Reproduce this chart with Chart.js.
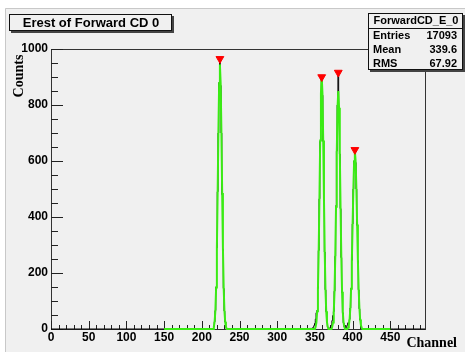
<!DOCTYPE html>
<html>
<head>
<meta charset="utf-8">
<script src="https://cdn.jsdelivr.net/npm/chart.js@4.4.1/dist/chart.umd.min.js"></script>
<style>
  html, body { margin: 0; padding: 0; background: #fff; }
  canvas { display: block; }
</style>
</head>
<body>
<canvas id="myChart" width="465" height="352"></canvas>
<script>
// histogram ForwardCD_E_0 (channel, counts) - only the non empty stretches, zeros around them
const histChannels = [0, 215, 216, 217, 218, 219, 220, 221, 222, 223, 224, 225, 226, 227, 228, 229, 230, 231, 232, 233,
  340, 345, 346, 347, 348, 349, 350, 351, 352, 353, 354, 355, 356, 357, 358, 359, 360, 361, 362, 363, 364, 365, 366, 367, 368, 369,
  370, 371, 372, 373, 374, 375, 376, 377, 378, 379, 380, 381, 382, 383, 384, 385, 386, 387, 388, 389,
  390, 391, 392, 393, 394, 395, 396, 397, 398, 399, 400, 401, 402, 403, 404, 405, 406, 407, 408, 409, 410, 411, 412, 413, 496];
const histCounts = [0, 0, 9, 26, 66, 150, 290, 490, 700, 880, 965, 870, 700, 480, 285, 145, 64, 25, 8, 0,
  0, 2, 0, 4, 6, 12, 20, 35, 58, 66, 145, 280, 465, 670, 840, 900, 835, 670, 460, 275, 140, 62, 24, 8, 2, 0,
  4, 8, 14, 30, 48, 62, 135, 260, 440, 635, 800, 916, 780, 625, 430, 255, 130, 58, 22, 8,
  6, 3, 8, 14, 22, 18, 34, 75, 145, 245, 375, 500, 600, 640, 595, 500, 370, 245, 140, 72, 32, 12, 4, 0, 0];

// fitted function (green), drawn from 150 to 450
const fitChannels = [150,
  215, 216, 217, 218, 219, 220, 221, 222, 223, 224, 225, 226, 227, 228, 229, 230, 231, 232, 233,
  350, 351, 352, 353, 354, 355, 356, 357, 358, 359, 360, 361, 362, 363, 364, 365, 366, 367, 368,
  372, 373, 374, 375, 376, 377, 378, 379, 380, 381, 382, 383, 384, 385, 386, 387, 388, 389, 390,
  393, 394, 395, 396, 397, 398, 399, 400, 401, 402, 403, 404, 405, 406, 407, 408, 409, 410, 411, 412, 413,
  450];
const fitValues = [0,
  0, 9, 26, 66, 148, 289, 486, 703, 878, 945, 878, 703, 486, 289, 148, 66, 26, 9, 0,
  0, 8, 24, 63, 142, 277, 465, 673, 841, 905, 841, 673, 465, 277, 142, 63, 24, 8, 0,
  0, 8, 23, 60, 133, 260, 437, 632, 790, 850, 790, 632, 437, 260, 133, 60, 23, 8, 0,
  0, 5, 14, 34, 75, 144, 245, 373, 501, 599, 636, 599, 501, 373, 245, 144, 75, 34, 14, 5, 0,
  0];

// peaks found
const peakX = [224, 359, 381, 403];
const peakY = [965, 900, 916, 640];

const statsNames = ['Entries', 'Mean', 'RMS'];
const statsValues = ['17093', '339.6', '67.92'];

const xMin = 0, xMax = 496, yMin = 0, yMax = 1000;

const sans = '"Liberation Sans", Arial, sans-serif';
const serif = '"Liberation Serif", "Times New Roman", serif';
const padGray = '#f0f0f0';

const rootPad = {
  id: 'rootPad',
  beforeDraw(chart) {
    const ctx = chart.ctx;
    ctx.save();
    ctx.fillStyle = '#fff';
    ctx.fillRect(0, 0, chart.width, chart.height);
    ctx.fillStyle = padGray;
    ctx.fillRect(5, 8, chart.width - 5, chart.height - 8);
    ctx.strokeStyle = '#c8c8c8';
    ctx.lineWidth = 1;
    ctx.beginPath();
    ctx.moveTo(5.5, chart.height);
    ctx.lineTo(5.5, 8.5);
    ctx.lineTo(chart.width, 8.5);
    ctx.stroke();
    ctx.restore();
  },
  beforeDatasetsDraw(chart) {
    const ctx = chart.ctx;
    const a = chart.chartArea;
    const xs = chart.scales.x, ys = chart.scales.y;
    ctx.save();
    ctx.strokeStyle = '#333';
    ctx.lineWidth = 1;
    ctx.strokeRect(Math.round(a.left) + 0.5, Math.round(a.top) + 0.5,
      Math.round(a.right - a.left), Math.round(a.bottom - a.top));
    ctx.strokeStyle = '#222';
    ctx.beginPath();
    for (let v = 0; v < xMax; v += 10) {
      const px = Math.round(xs.getPixelForValue(v)) + 0.5;
      const len = v % 50 === 0 ? 8 : 4;
      ctx.moveTo(px, a.bottom);
      ctx.lineTo(px, a.bottom - len);
    }
    for (let v = 0; v <= yMax; v += 50) {
      const py = Math.round(ys.getPixelForValue(v)) + 0.5;
      const len = v % 200 === 0 ? 12 : 7;
      ctx.moveTo(a.left, py);
      ctx.lineTo(a.left + len, py);
    }
    ctx.stroke();
    ctx.restore();
  },
  afterDraw(chart) {
    const ctx = chart.ctx;
    ctx.save();

    // title box
    ctx.fillStyle = '#444';
    ctx.fillRect(11, 31, 163, 2);
    ctx.fillRect(172, 16, 2, 17);
    ctx.fillStyle = padGray;
    ctx.fillRect(9, 14, 163, 17);
    ctx.strokeStyle = '#111';
    ctx.lineWidth = 1;
    ctx.strokeRect(9.5, 14.5, 162, 16);
    ctx.fillStyle = '#000';
    ctx.font = 'bold 13px ' + sans;
    ctx.textAlign = 'center';
    ctx.textBaseline = 'middle';
    ctx.fillText('Erest of Forward CD 0', 91, 23.5);

    // stats box
    ctx.fillStyle = '#444';
    ctx.fillRect(370, 70, 95, 2);
    ctx.fillRect(463, 15, 2, 57);
    ctx.fillStyle = padGray;
    ctx.fillRect(368, 13, 95, 57);
    ctx.strokeStyle = '#111';
    ctx.strokeRect(368.5, 13.5, 94, 56);
    ctx.beginPath();
    ctx.moveTo(368.5, 28.5);
    ctx.lineTo(462.5, 28.5);
    ctx.stroke();
    ctx.fillStyle = '#000';
    ctx.font = 'bold 11px ' + sans;
    ctx.textAlign = 'center';
    ctx.fillText('ForwardCD_E_0', 416, 21);
    const rowY = [35.5, 49.5, 63.5];
    statsNames.forEach((n, i) => {
      ctx.textAlign = 'left';
      ctx.fillText(n, 373, rowY[i]);
      ctx.textAlign = 'right';
      ctx.fillText(statsValues[i], 457, rowY[i]);
    });

    // axis titles
    ctx.font = 'bold 14px ' + serif;
    ctx.textAlign = 'right';
    ctx.textBaseline = 'alphabetic';
    ctx.fillText('Channel', 457, 347);
    ctx.translate(23, 76);
    ctx.rotate(-Math.PI / 2);
    ctx.textAlign = 'center';
    ctx.fillText('Counts', 0, 0);
    ctx.restore();
  }
};

const histData = histChannels.map((c, i) => ({ x: c, y: histCounts[i] }));
const fitData = fitChannels.map((c, i) => ({ x: c, y: fitValues[i] }));
const peakData = peakX.map((c, i) => ({ x: c, y: peakY[i] }));

Chart.defaults.color = '#000';

new Chart(document.getElementById('myChart'), {
  type: 'scatter',
  data: {
    datasets: [
      {
        label: 'peaks',
        data: peakData,
        order: 0,
        showLine: false,
        pointStyle: 'triangle',
        rotation: 180,
        radius: 4.5,
        backgroundColor: '#ff0000',
        borderColor: '#ff0000',
        borderWidth: 1,
        clip: false
      },
      {
        label: 'fit',
        data: fitData,
        order: 1,
        showLine: true,
        borderColor: '#3aec14',
        borderWidth: 2,
        pointRadius: 0,
        tension: 0,
        clip: false
      },
      {
        label: 'ForwardCD_E_0',
        data: histData,
        order: 2,
        showLine: true,
        stepped: 'middle',
        borderColor: '#000',
        borderWidth: 1,
        pointRadius: 0,
        clip: false
      }
    ]
  },
  options: {
    responsive: false,
    devicePixelRatio: 1,
    animation: false,
    events: [],
    layout: { padding: { left: 0, top: 49, right: 40, bottom: 0 } },
    plugins: { legend: { display: false }, tooltip: { enabled: false }, title: { display: false } },
    scales: {
      x: {
        type: 'linear',
        min: xMin,
        max: xMax,
        grid: { display: true, drawOnChartArea: false, drawTicks: false },
        border: { display: false },
        ticks: {
          stepSize: 50,
          includeBounds: false,
          maxRotation: 0,
          autoSkip: false,
          padding: 1,
          font: { family: sans, size: 12, weight: 'bold' },
          callback: v => String(v)
        },
        afterFit: s => { s.height = 23; }
      },
      y: {
        type: 'linear',
        min: yMin,
        max: yMax,
        grid: { display: true, drawOnChartArea: false, drawTicks: false },
        border: { display: false },
        ticks: {
          stepSize: 200,
          includeBounds: false,
          autoSkip: false,
          padding: 3,
          font: { family: sans, size: 12, weight: 'bold' },
          callback: v => String(v)
        },
        afterFit: s => { s.width = 51; }
      }
    }
  },
  plugins: [rootPad]
});
</script>
</body>
</html>
